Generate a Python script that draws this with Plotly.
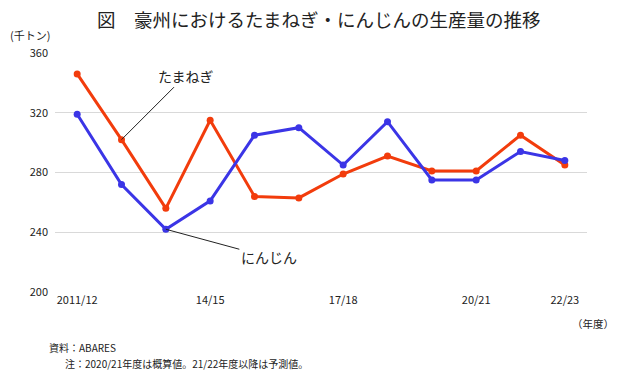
import plotly.graph_objects as go

categories = ["2011/12", "12/13", "13/14", "14/15", "15/16", "16/17", "17/18",
              "18/19", "19/20", "20/21", "21/22", "22/23"]
onion = [346, 302, 256, 315, 264, 263, 279, 291, 281, 281, 305, 285]
carrot = [319, 272, 242, 261, 305, 310, 285, 314, 275, 275, 294, 288]
tick_labels = ["2011/12", "14/15", "17/18", "20/21", "22/23"]
y_ticks = [200, 240, 280, 320, 360]

FONT = "Noto Sans CJK JP"
ORANGE = "#F23C0C"
BLUE = "#3B35E6"

x_idx = list(range(len(categories)))

fig = go.Figure()
fig.add_trace(go.Scatter(x=x_idx, y=onion, mode="lines+markers", name="たまねぎ",
                         line=dict(color=ORANGE, width=3), marker=dict(size=7, color=ORANGE)))
fig.add_trace(go.Scatter(x=x_idx, y=carrot, mode="lines+markers", name="にんじん",
                         line=dict(color=BLUE, width=3), marker=dict(size=7, color=BLUE)))

tick_idx = [categories.index(t) for t in tick_labels]

W, H = 623, 384
L, R, T, B = 55, 36, 53, 92
pw, ph = W - L - R, H - T - B

fig.update_layout(
    width=W, height=H, autosize=False,
    margin=dict(l=L, r=R, t=T, b=B),
    plot_bgcolor="white", paper_bgcolor="white",
    showlegend=False,
    font=dict(family=FONT, size=11, color="#222222"),
    xaxis=dict(range=[-0.5, len(categories) - 0.5], tickvals=tick_idx, ticktext=tick_labels,
               showgrid=False, zeroline=False, showline=False, ticks="",
               tickfont=dict(size=11, color="#222")),
    yaxis=dict(range=[200, 360], tickvals=y_ticks, showgrid=True, gridcolor="#d9d9d9",
               gridwidth=1, zeroline=False, showline=False, ticks="",
               tickfont=dict(size=11, color="#222"), ticklabelstandoff=6),
)


def px(xp):
    return (xp - L) / pw


def py(yp):
    return (H - B - yp) / ph


annotations = [
    dict(text="図　豪州におけるたまねぎ・にんじんの生産量の推移", x=px(318), y=py(19), xref="paper", yref="paper",
         xanchor="center", yanchor="middle", showarrow=False, font=dict(size=18.5, color="#222")),
    dict(text="(千トン)", x=px(8), y=py(35), xref="paper", yref="paper", xanchor="left", yanchor="middle",
         showarrow=False, font=dict(size=11)),
    dict(text="（年度）", x=px(616), y=py(323), xref="paper", yref="paper", xanchor="right", yanchor="middle",
         showarrow=False, font=dict(size=10.5)),
    dict(text="資料：ABARES", x=px(47), y=py(347), xref="paper", yref="paper", xanchor="left", yanchor="middle",
         showarrow=False, font=dict(size=10)),
    dict(text="注：2020/21年度は概算値。21/22年度以降は予測値。", x=px(63), y=py(363), xref="paper", yref="paper",
         xanchor="left", yanchor="middle", showarrow=False, font=dict(size=10)),
    dict(text="たまねぎ", x=1, y=onion[1], xref="x", yref="y", ax=64, ay=-64, showarrow=True,
         arrowhead=0, arrowwidth=1, arrowcolor="#222", font=dict(size=14, color="#222")),
    dict(text="にんじん", x=2, y=carrot[2], xref="x", yref="y", ax=103, ay=28, showarrow=True,
         arrowhead=0, arrowwidth=1, arrowcolor="#222", font=dict(size=14, color="#222")),
]
fig.update_layout(annotations=annotations)

fig.write_html("out.html", config={"displayModeBar": False},
               post_script="document.body.style.margin='0';document.body.style.padding='0';")
